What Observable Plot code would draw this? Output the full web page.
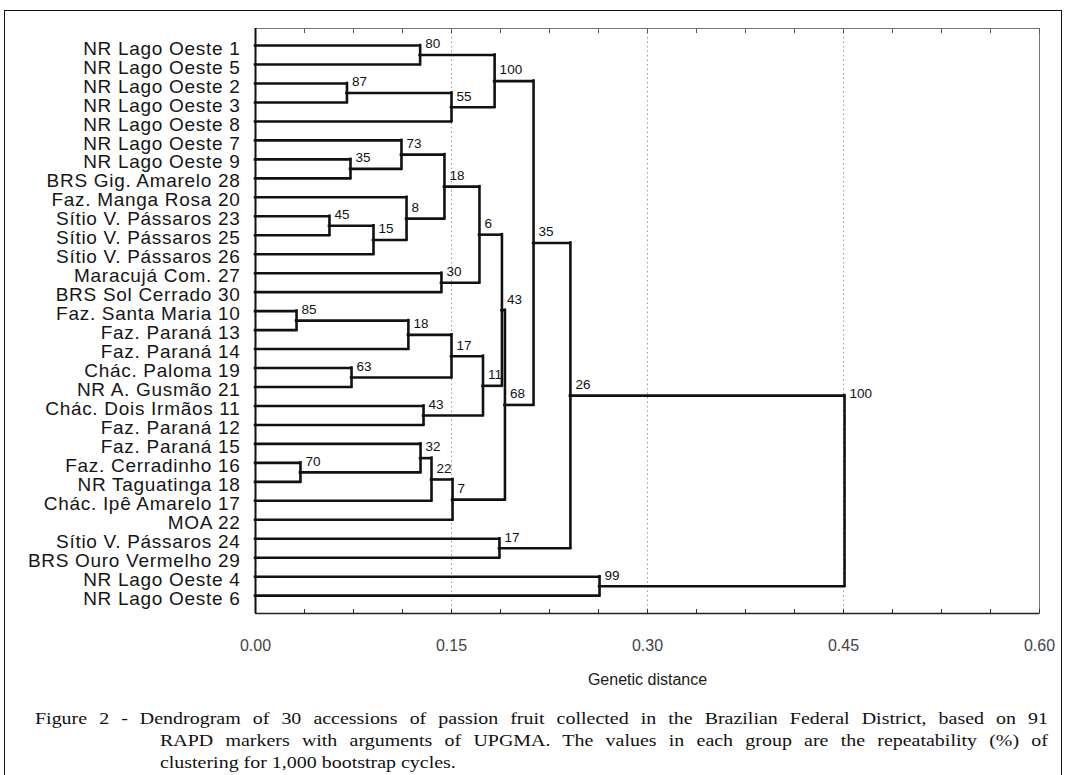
<!DOCTYPE html>
<html><head><meta charset="utf-8">
<script src="https://cdn.jsdelivr.net/npm/d3@7"></script>
<script src="https://cdn.jsdelivr.net/npm/@observablehq/plot@0.6"></script>
<style>
body{margin:0;background:#fff;}
#wrap{position:relative;width:1066px;height:775px;overflow:hidden;background:#fff;}
#border{position:absolute;left:4px;top:10px;width:1058px;height:820px;border:1.5px solid #111;box-sizing:border-box;}
#chart{position:absolute;left:0;top:0;}
#chart g[aria-label="y-axis tick label"] text{letter-spacing:0.7px;}
#caption{position:absolute;left:35px;top:707px;width:888.6px;transform:scaleX(1.14);transform-origin:0 0;font-family:"Liberation Serif","Times New Roman",serif;font-size:17.5px;line-height:22px;color:#111;}
#caption .row{display:flex;}
#caption .hd{width:109.6px;flex:none;}
#caption .bd{flex:1;}
#caption .j{text-align:justify;text-align-last:justify;}
</style>
</head><body>
<div id="wrap">
<div id="border"></div>
<div id="chart"></div>
<div id="caption">
<div class="row"><span class="bd j">Figure 2 - Dendrogram of 30 accessions of passion fruit collected in the Brazilian Federal District, based on 91</span></div>
<div class="row"><span class="hd"></span><span class="bd j">RAPD markers with arguments of UPGMA. The values in each group are the repeatability (%) of</span></div>
<div class="row"><span class="hd"></span><span class="bd">clustering for 1,000 bootstrap cycles.</span></div>
</div>
</div>
<script>
// Leaves (top to bottom)
const leaves = [
  "NR Lago Oeste 1","NR Lago Oeste 5","NR Lago Oeste 2","NR Lago Oeste 3","NR Lago Oeste 8",
  "NR Lago Oeste 7","NR Lago Oeste 9","BRS Gig. Amarelo 28","Faz. Manga Rosa 20","Sítio V. Pássaros 23",
  "Sítio V. Pássaros 25","Sítio V. Pássaros 26","Maracujá Com. 27","BRS Sol Cerrado 30","Faz. Santa Maria 10",
  "Faz. Paraná 13","Faz. Paraná 14","Chác. Paloma 19","NR A. Gusmão 21","Chác. Dois Irmãos 11",
  "Faz. Paraná 12","Faz. Paraná 15","Faz. Cerradinho 16","NR Taguatinga 18","Chác. Ipê Amarelo 17",
  "MOA 22","Sítio V. Pássaros 24","BRS Ouro Vermelho 29","NR Lago Oeste 4","NR Lago Oeste 6"
];
// Merges: child ids (< 30 = leaf index, >= 30 = merge 30+k)
const nodeA = [0,2,31,30,6,5,9,36,8,35,12,39,14,42,17,43,19,45,41,22,21,50,51,48,33,26,54,28,56];
const nodeB = [1,3,4,32,7,34,10,11,37,38,13,40,15,16,18,44,20,46,47,23,49,24,25,52,53,27,55,29,57];
const nodeHeight = [0.126,0.070,0.150,0.183,0.0727,0.1117,0.0566,0.0903,0.1156,0.1446,0.1423,0.1714,0.0314,0.117,0.0735,0.150,0.1286,0.1741,0.1886,0.0344,0.1263,0.1347,0.1508,0.1909,0.2128,0.1867,0.241,0.2633,0.4508];
const nodeSupport = [80,87,55,100,35,73,45,15,8,18,30,6,85,18,63,17,43,11,43,70,32,22,7,68,35,17,26,99,100];
// Axis ticks
const majorTicks = [0, 0.15, 0.30, 0.45, 0.60];
const minorTicks = d3.range(0, 17).map(i => i * 0.0375);
const gridTicks = [0.15, 0.30, 0.45];

const yTop = -0.9, yBottom = 29.94;

const pos = [];
leaves.forEach((d, i) => pos[i] = {x: 0, y: i});
nodeA.forEach((a, k) => {
  const b = nodeB[k];
  pos[30 + k] = {x: nodeHeight[k], y: (pos[a].y + pos[b].y) / 2};
});
const horiz = [], vert = [], labels = [];
const rootK = nodeA.length - 1;
nodeA.forEach((a, k) => {
  const b = nodeB[k], n = pos[30 + k];
  for (const c of [a, b]) horiz.push({y: pos[c].y, x1: pos[c].x, x2: n.x});
  vert.push({x: n.x, y1: pos[a].y, y2: pos[b].y});
  const root = k === rootK;
  labels.push({x: n.x, y: root ? Math.min(pos[a].y, pos[b].y) : n.y, t: String(nodeSupport[k]), root});
});

const chart = Plot.plot({
  width: 1066, height: 698,
  marginLeft: 255, marginRight: 27, marginTop: 28, marginBottom: 85,
  x: {domain: [0, 0.6]},
  y: {domain: [yTop, yBottom], reverse: true},
  style: {fontFamily: "'Liberation Sans', Arial, sans-serif", background: "transparent", overflow: "visible"},
  marks: [
    Plot.gridX(gridTicks, {stroke: "#999", strokeOpacity: 1, strokeDasharray: "1.5,3", strokeWidth: 1}),
    Plot.frame({stroke: "#777", strokeWidth: 1}),
    Plot.axisX(minorTicks, {anchor: "bottom", tickSize: -4, tickFormat: () => "", label: null, stroke: "#333"}),
    Plot.axisX(minorTicks, {anchor: "top", tickSize: -4, tickFormat: () => "", label: null, stroke: "#555"}),
    Plot.axisX(majorTicks, {anchor: "bottom", tickSize: 0, tickPadding: 26, tickFormat: d3.format(".2f"), fontSize: 16, fill: "#444", label: null}),
    Plot.axisY(d3.range(leaves.length), {anchor: "left", tickSize: 0, tickPadding: 15, tickFormat: i => leaves[i], fontSize: 19, dy: 3, fill: "#161616", label: null}),
    Plot.ruleY([yBottom], {stroke: "#222", strokeWidth: 1.5}),
    Plot.ruleX([0], {stroke: "#111", strokeWidth: 2}),
    Plot.ruleY(horiz, {y: "y", x1: "x1", x2: "x2", stroke: "#111", strokeWidth: 2.6, strokeLinecap: "square"}),
    Plot.ruleX(vert, {x: "x", y1: "y1", y2: "y2", stroke: "#111", strokeWidth: 2.6, strokeLinecap: "square"}),
    Plot.text(labels.filter(d => !d.root), {x: "x", y: "y", text: "t", dx: 5, dy: -11, textAnchor: "start", fontSize: 13.5, fill: "#111"}),
    Plot.text(labels.filter(d => d.root), {x: "x", y: "y", text: "t", dx: 5, dy: -2, textAnchor: "start", fontSize: 13.5, fill: "#111"}),
    Plot.text(["Genetic distance"], {frameAnchor: "bottom", dy: 71, fontSize: 16, fill: "#1a1a1a"})
  ]
});
document.getElementById("chart").appendChild(chart);
</script>
</body></html>
